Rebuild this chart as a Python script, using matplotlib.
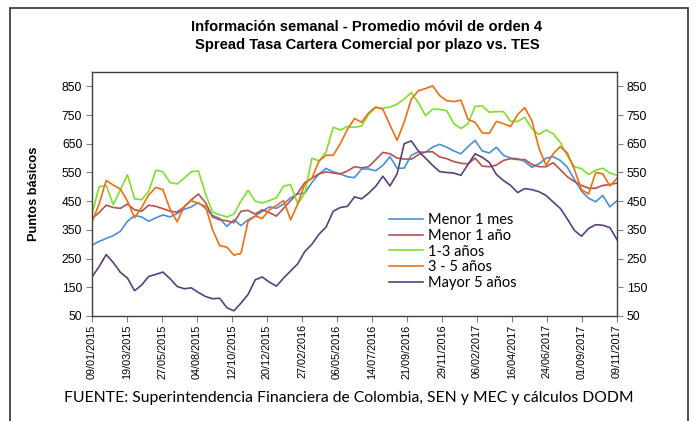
import numpy as np
import pandas as pd
import matplotlib
matplotlib.use("Agg")
import matplotlib.pyplot as plt
from matplotlib.patches import Rectangle

# datos semanales (muestreados cada ~2 semanas), puntos basicos
fechas = pd.date_range("2015-01-09", "2017-11-09", periods=75)

menor_1_mes = [297, 310, 320, 330, 345, 380, 400, 395, 380, 392,
               402, 395, 407, 422, 430, 445, 425, 400, 390, 362,
               385, 365, 385, 398, 415, 430, 425, 440, 462, 475,
               478, 515, 545, 564, 552, 545, 535, 532, 562, 562,
               556, 575, 605, 565, 565, 610, 622, 620, 638, 648,
               638, 625, 615, 640, 662, 625, 618, 638, 610, 600,
               598, 588, 568, 580, 600, 605, 592, 568, 525, 485,
               460, 448, 470, 430, 452]
menor_1_anio = [390, 410, 436, 428, 425, 440, 420, 415, 436, 432,
                424, 415, 412, 430, 455, 475, 445, 395, 385, 382,
                375, 415, 418, 405, 420, 410, 398, 425, 452, 478,
                515, 530, 545, 552, 548, 545, 555, 570, 566, 570,
                595, 620, 615, 600, 597, 596, 612, 622, 622, 604,
                598, 588, 582, 580, 600, 572, 570, 576, 592, 598,
                595, 595, 578, 570, 570, 584, 560, 535, 518, 505,
                495, 495, 505, 508, 513]
anios_1_3 = [405, 500, 505, 438, 490, 542, 458, 455, 485, 558,
             552, 515, 510, 530, 553, 555, 475, 412, 403, 395,
             405, 450, 488, 450, 444, 452, 462, 502, 508, 440,
             478, 600, 590, 622, 708, 698, 710, 707, 712, 753,
             776, 774, 778, 788, 806, 828, 793, 748, 770, 770,
             765, 720, 703, 720, 780, 782, 760, 762, 762, 728,
             728, 742, 703, 682, 698, 685, 655, 608, 570, 563,
             543, 558, 565, 548, 540]
anios_3_5 = [378, 440, 522, 506, 492, 450, 392, 428, 472, 498,
             490, 422, 378, 432, 452, 442, 432, 350, 295, 290,
             262, 268, 380, 398, 390, 420, 435, 452, 385, 440,
             510, 530, 590, 610, 610, 650, 700, 738, 725, 758,
             778, 770, 715, 662, 725, 805, 835, 842, 852, 818,
             800, 797, 802, 735, 725, 688, 686, 728, 720, 710,
             752, 776, 730, 635, 575, 615, 640, 618, 560, 490,
             475, 550, 545, 503, 530]
mayor_5 = [186, 222, 264, 236, 202, 182, 138, 158, 188, 195,
           203, 180, 153, 145, 148, 132, 118, 110, 112, 79,
           68, 95, 125, 176, 186, 168, 154, 182, 207, 232,
           275, 300, 335, 360, 415, 428, 432, 465, 458, 478,
           502, 537, 503, 545, 650, 660, 625, 600, 575, 553,
           550, 548, 540, 578, 615, 603, 585, 543, 522, 505,
           480, 494, 490, 483, 470, 447, 425, 388, 348, 328,
           355, 368, 366, 358, 316]

series = [
    ("Menor 1 mes", menor_1_mes, "#4a8fdc"),
    ("Menor 1 año", menor_1_anio, "#b9504a"),
    ("1-3 años", anios_1_3, "#7fe02a"),
    ("3 - 5 años", anios_3_5, "#ee6f12"),
    ("Mayor 5 años", mayor_5, "#5a3f80"),
]

tick_fechas = pd.date_range("2015-01-09", periods=16, freq="69D")
y_ticks = np.arange(50, 851, 100)

plt.rcParams["font.family"] = ["Liberation Sans", "DejaVu Sans"]

W, H = 697, 421
fig = plt.figure(figsize=(W / 100, H / 100), dpi=100)
ax = fig.add_axes([92 / W, 1 - 316 / H, (617 - 92) / W, (316 - 72) / H])

for nombre, vals, col in series:
    ax.plot(fechas, vals, color=col, lw=1.2, label=nombre)

ax.set_xlim(fechas[0], fechas[-1])
ax.set_ylim(50, 900)
ax.set_yticks(y_ticks)
ax.set_xticks(tick_fechas)
ax.set_xticklabels([d.strftime("%d/%m/%Y") for d in tick_fechas],
                   rotation=90, fontsize=7.8)
ax.tick_params(axis="y", labelsize=8.7, length=4, color="#808080", pad=3)
ax.tick_params(axis="x", length=4, color="#808080", pad=2)
for s in ax.spines.values():
    s.set_color("#404040")
    s.set_linewidth(1.0)

ax2 = ax.twinx()
ax2.set_ylim(50, 900)
ax2.set_yticks(y_ticks)
ax2.tick_params(axis="y", labelsize=8.7, length=4, color="#808080", pad=3)
for s in ax2.spines.values():
    s.set_visible(False)

ax.set_ylabel("Puntos básicos", fontsize=9.2, fontweight="bold", labelpad=16)

# titulo centrado un poco a la derecha, como en el original
fig.text(367 / W, 1 - 27 / H, "Información semanal - Promedio móvil de orden 4",
         ha="center", va="center", fontsize=10.6, fontweight="bold")
fig.text(367 / W, 1 - 45 / H, "Spread Tasa Cartera Comercial por plazo vs. TES",
         ha="center", va="center", fontsize=10.6, fontweight="bold")

leg = ax.legend(loc="upper left", bbox_to_anchor=(389 / W, 1 - 213 / H),
                bbox_transform=fig.transFigure, frameon=False,
                borderpad=0, borderaxespad=0, handlelength=2.3,
                handletextpad=0.4, labelspacing=0.12,
                prop={"family": "Lato", "size": 10.5})

fig.text(0.5, 1 - 398 / H,
         "FUENTE: Superintendencia Financiera de Colombia, SEN y MEC y cálculos DODM",
         ha="center", va="center", fontsize=11.3, family="Lato")

fig.patches.append(Rectangle((10 / W, -0.1), (688 - 10) / W, 1.1 - 8 / H,
                             transform=fig.transFigure, fill=False,
                             ec="#303030", lw=1.2))

fig.savefig("out.png", dpi=100)
